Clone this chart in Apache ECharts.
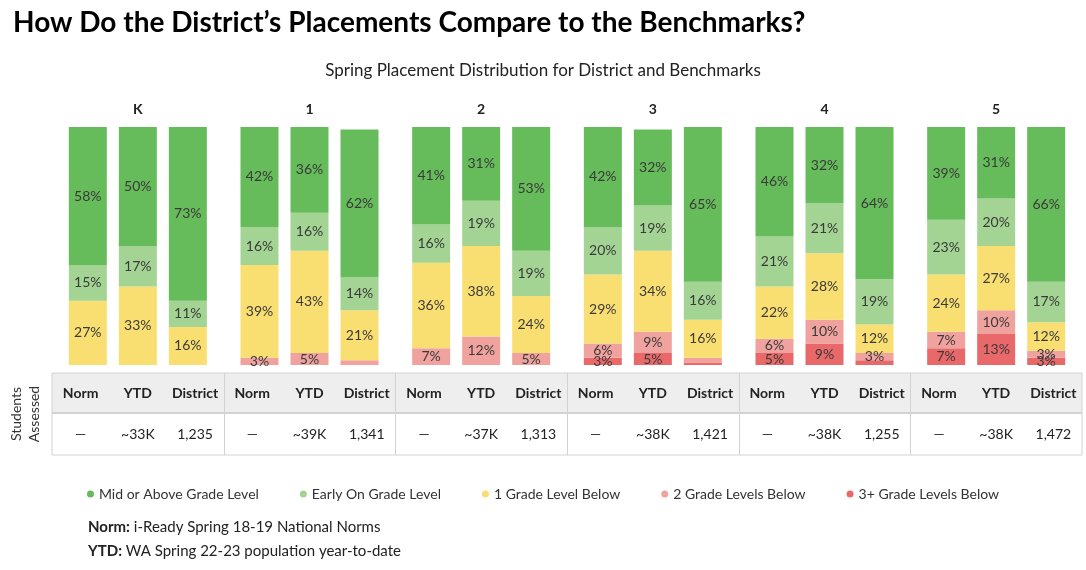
<!DOCTYPE html>
<html>
<head>
<meta charset="utf-8">
<script src="https://cdn.jsdelivr.net/npm/echarts@6/dist/echarts.min.js"></script>
<style>
  html, body { margin: 0; padding: 0; background: #fff; }
  #placementChart { width: 1086px; height: 570px; }
</style>
</head>
<body>
<div id="placementChart"></div>
<script>
  const grades = ['K', '1', '2', '3', '4', '5']
  const levels = ['Mid or Above Grade Level', 'Early On Grade Level', '1 Grade Level Below', '2 Grade Levels Below', '3+ Grade Levels Below']
  const columns = ['Norm', 'YTD', 'District']

  // percent of students per level (rows follow levels), one value per grade
  const normShares = [
    [58, 42, 41, 42, 46, 39],
    [15, 16, 16, 20, 21, 23],
    [27, 39, 36, 29, 22, 24],
    [0, 3, 7, 6, 6, 7],
    [0, 0, 0, 3, 5, 7]
  ]
  const ytdShares = [
    [50, 36, 31, 32, 32, 31],
    [17, 16, 19, 19, 21, 20],
    [33, 43, 38, 34, 28, 27],
    [0, 5, 12, 9, 10, 10],
    [0, 0, 0, 5, 9, 13]
  ]
  const districtShares = [
    [73, 62, 53, 65, 64, 66],
    [11, 14, 19, 16, 19, 17],
    [16, 21, 24, 16, 12, 12],
    [0, 2, 5, 2, 3, 3],
    [0, 0, 0, 1, 2, 3]
  ]
  const normCounts = ['—', '—', '—', '—', '—', '—']
  const ytdCounts = ['~33K', '~39K', '~37K', '~38K', '~38K', '~38K']
  const districtCounts = ['1,235', '1,341', '1,313', '1,421', '1,255', '1,472']

  const colors = ['#66BB5B', '#A3D494', '#F9DE72', '#F0A39E', '#E9696A']
  const font = 'Lato, "Open Sans", sans-serif'
  const gridLeft = 52
  const gridRight = 4
  const tableTop = 373
  const headH = 40
  const rowH = 42

  const sharesByColumn = [normShares, ytdShares, districtShares]
  let series = []
  columns.forEach((col, c) => {
    // bottom of the stack is the lowest level
    for (let l = levels.length - 1; l >= 0; l--) {
      series.push({
        name: levels[l],
        type: 'bar',
        stack: col,
        barWidth: 38,
        barGap: '31.6%',
        itemStyle: { color: colors[l] },
        label: {
          show: true,
          position: 'inside',
          fontFamily: font,
          fontSize: 14,
          color: '#3a3a3a',
          formatter: p => (p.value >= 3 ? p.value + '%' : '')
        },
        emphasis: { disabled: true },
        data: sharesByColumn[c][l]
      })
    }
  })

  const chartW = 1086
  const plotW = chartW - gridLeft - gridRight
  const catW = plotW / grades.length
  let tableGraphics = [
    {
      type: 'rect',
      shape: { x: gridLeft, y: tableTop, width: plotW, height: headH },
      style: { fill: '#EEEEEE' },
      z: -1
    },
    {
      type: 'rect',
      shape: { x: gridLeft, y: tableTop, width: plotW, height: headH + rowH },
      style: { fill: 'none', stroke: '#D2D2D2', lineWidth: 1 }
    },
    {
      type: 'line',
      shape: { x1: gridLeft, y1: tableTop + headH, x2: gridLeft + plotW, y2: tableTop + headH },
      style: { stroke: '#D2D2D2', lineWidth: 2 }
    }
  ]
  for (let i = 1; i < grades.length; i++) {
    let x = Math.round(gridLeft + catW * i) + 0.5
    tableGraphics.push({
      type: 'line',
      shape: { x1: x, y1: tableTop, x2: x, y2: tableTop + headH + rowH },
      style: { stroke: '#D2D2D2', lineWidth: 1 }
    })
  }

  let option = {
    backgroundColor: '#fff',
    textStyle: { fontFamily: font },
    title: [
      {
        text: 'How Do the District’s Placements Compare to the Benchmarks?',
        left: 8,
        top: 4,
        textStyle: { fontFamily: font, fontSize: 28, fontWeight: 'bold', color: '#000' }
      },
      {
        text: 'Spring Placement Distribution for District and Benchmarks',
        left: 'center',
        top: 57,
        textStyle: { fontFamily: font, fontSize: 17, fontWeight: 'normal', color: '#222' }
      }
    ],
    legend: {
      data: levels,
      left: 'center',
      top: 482,
      icon: 'circle',
      itemWidth: 7,
      itemHeight: 7,
      itemGap: 41,
      selectedMode: false,
      textStyle: { fontFamily: font, fontSize: 14, color: '#333' }
    },
    grid: { left: gridLeft, right: gridRight, top: 127, bottom: 205 },
    xAxis: [
      {
        type: 'category',
        position: 'top',
        data: grades,
        axisLine: { show: false },
        axisTick: { show: false },
        axisLabel: { margin: 11, fontFamily: font, fontSize: 14, fontWeight: 'bold', color: '#222' }
      },
      {
        type: 'category',
        position: 'bottom',
        data: grades,
        axisLine: { show: false },
        axisTick: { show: false },
        axisLabel: {
          margin: 8,
          interval: 0,
          formatter: (v, i) => '{h|Norm}{h|YTD}{h|District}\n{c|' + normCounts[i] + '}{c|' + ytdCounts[i] + '}{c|' + districtCounts[i] + '}',
          rich: {
            h: { width: catW / 3, align: 'center', fontFamily: font, fontSize: 14, fontWeight: 'bold', color: '#222', lineHeight: headH },
            c: { width: catW / 3, align: 'center', fontFamily: font, fontSize: 14, color: '#222', lineHeight: rowH }
          }
        }
      }
    ],
    yAxis: {
      type: 'value',
      min: 0,
      max: 100,
      show: false
    },
    graphic: tableGraphics.concat([
      {
        type: 'text',
        x: 25,
        y: tableTop + (headH + rowH) / 2,
        rotation: Math.PI / 2,
        style: {
          text: 'Students\nAssessed',
          fontFamily: font,
          fontSize: 14,
          fill: '#333',
          align: 'center',
          verticalAlign: 'middle',
          lineHeight: 18
        }
      },
      {
        type: 'text',
        left: 88,
        top: 515,
        style: {
          text: '{b|Norm:} i-Ready Spring 18-19 National Norms\n{b|YTD:} WA Spring 22-23 population year-to-date',
          fontFamily: font,
          fontSize: 15,
          fill: '#222',
          lineHeight: 24,
          rich: { b: { fontFamily: font, fontSize: 15, fontWeight: 'bold', fill: '#222', lineHeight: 24 } }
        }
      }
    ]),
    series: series
  }

  let myChart = echarts.init(document.getElementById('placementChart'))
  myChart.setOption(option)
</script>
</body>
</html>
